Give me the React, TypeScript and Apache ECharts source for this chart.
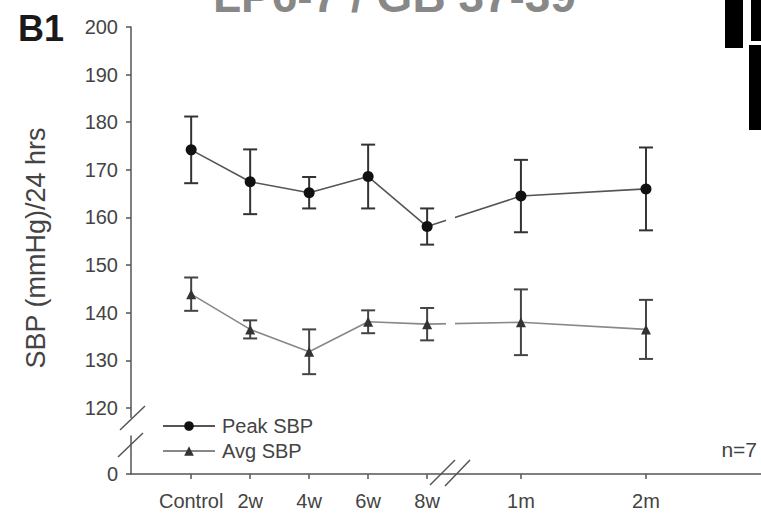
import { useEffect, useRef } from "react";
import * as echarts from "echarts";

const timeLabels = ["Control", "2w", "4w", "6w", "8w", "1m", "2m"];
const timePos = [0, 1, 2, 3, 4, 5.59, 7.71];
const peakMean = [174.2, 167.5, 165.2, 168.6, 158.1, 164.5, 166.0];
const peakErr = [7.0, 6.8, 3.3, 6.7, 3.8, 7.6, 8.7];
const avgMean = [143.9, 136.5, 131.8, 138.1, 137.6, 138.0, 136.5];
const avgErr = [3.5, 1.9, 4.7, 2.4, 3.4, 6.9, 6.2];
const yTicks = [120, 130, 140, 150, 160, 170, 180, 190, 200];
const seriesNames = ["Peak SBP", "Avg SBP"];

const FONT = "'Liberation Sans', Arial, Helvetica, sans-serif";

function errorBars(name: string, means: number[], errs: number[], color: string) {
  return {
    type: "custom",
    name: name + " err",
    xAxisIndex: 0,
    yAxisIndex: 0,
    z: 3,
    clip: false,
    encode: { x: 0, y: [1, 2] },
    data: means.map((m, i) => [timePos[i], m - errs[i], m + errs[i]]),
    renderItem: (_params: any, api: any) => {
      const x = api.value(0);
      const pLo = api.coord([x, api.value(1)]);
      const pHi = api.coord([x, api.value(2)]);
      const w = 7;
      const style = { stroke: color, lineWidth: 2 };
      return {
        type: "group",
        children: [
          { type: "line", shape: { x1: pHi[0], y1: pHi[1], x2: pLo[0], y2: pLo[1] }, style },
          { type: "line", shape: { x1: pHi[0] - w, y1: pHi[1], x2: pHi[0] + w, y2: pHi[1] }, style },
          { type: "line", shape: { x1: pLo[0] - w, y1: pLo[1], x2: pLo[0] + w, y2: pLo[1] }, style },
        ],
      };
    },
  };
}

export default function App() {
  const ref = useRef<HTMLDivElement>(null);
  useEffect(() => {
    if (!ref.current) return;
    const chart = echarts.init(ref.current, undefined, { renderer: "svg" });
    const xMin = -1.02;
    const xMax = 9.66;
    const axisColor = "#555";
    const textColor = "#444";
    const option: any = {
      animation: false,
      backgroundColor: "#fff",
      textStyle: { fontFamily: FONT },
      grid: [
        { left: 131, right: 0, top: 27, height: 390.5 },
        { left: 131, right: 0, top: 436, height: 38 },
      ],
      xAxis: [
        { type: "value", gridIndex: 0, min: xMin, max: xMax, show: false },
        {
          type: "value",
          gridIndex: 1,
          min: xMin,
          max: xMax,
          splitLine: { show: false },
          axisLine: { show: true, onZero: false, lineStyle: { color: axisColor, width: 1.5 } },
          axisTick: { show: true, length: 5, customValues: timePos, lineStyle: { color: axisColor, width: 1.5 } },
          axisLabel: {
            customValues: timePos,
            margin: 17,
            fontSize: 20,
            color: textColor,
            fontFamily: FONT,
            formatter: (v: number) => {
              const i = timePos.findIndex((p) => Math.abs(p - v) < 1e-6);
              return i >= 0 ? timeLabels[i] : "";
            },
          },
        },
      ],
      yAxis: [
        {
          type: "value",
          gridIndex: 0,
          min: 118,
          max: 200,
          splitLine: { show: false },
          axisLine: { show: true, onZero: false, lineStyle: { color: axisColor, width: 1.5 } },
          axisTick: { show: true, length: 5, customValues: yTicks, lineStyle: { color: axisColor, width: 1.5 } },
          axisLabel: { customValues: yTicks, margin: 13, fontSize: 20, color: textColor, fontFamily: FONT },
        },
        {
          type: "value",
          gridIndex: 1,
          min: 0,
          max: 10,
          splitLine: { show: false },
          axisLine: { show: true, onZero: false, lineStyle: { color: axisColor, width: 1.5 } },
          axisTick: { show: true, length: 5, customValues: [0], lineStyle: { color: axisColor, width: 1.5 } },
          axisLabel: { customValues: [0], margin: 13, fontSize: 20, color: textColor, fontFamily: FONT },
        },
      ],
      legend: {
        data: seriesNames,
        orient: "vertical",
        left: 157,
        top: 411,
        itemWidth: 52,
        itemHeight: 12,
        itemGap: 5,
        textStyle: { fontSize: 20, color: textColor, fontFamily: FONT, padding: [0, 0, 0, 2] },
      },
      series: [
        errorBars(seriesNames[0], peakMean, peakErr, "#333"),
        errorBars(seriesNames[1], avgMean, avgErr, "#444"),
        {
          type: "line",
          name: seriesNames[0],
          xAxisIndex: 0,
          yAxisIndex: 0,
          z: 4,
          data: peakMean.map((v, i) => [timePos[i], v]),
          symbol: "circle",
          symbolSize: 11,
          itemStyle: { color: "#111" },
          lineStyle: { color: "#555", width: 1.6 },
        },
        {
          type: "line",
          name: seriesNames[1],
          xAxisIndex: 0,
          yAxisIndex: 0,
          z: 4,
          data: avgMean.map((v, i) => [timePos[i], v]),
          symbol: "triangle",
          symbolSize: 10,
          itemStyle: { color: "#333" },
          lineStyle: { color: "#888", width: 1.6 },
        },
      ],
      graphic: [
        // gap in the data lines at the time break
        { type: "rect", z: 100, shape: { x: 446, y: 150, width: 9, height: 240 }, style: { fill: "#fff" } },
        // y-axis break
        { type: "rect", z: 100, shape: { x: 127, y: 419, width: 8, height: 16 }, style: { fill: "#fff" } },
        { type: "line", z: 101, shape: { x1: 120, y1: 430, x2: 145, y2: 406 }, style: { stroke: "#555", lineWidth: 1.5 } },
        { type: "line", z: 101, shape: { x1: 118, y1: 457, x2: 143, y2: 433 }, style: { stroke: "#555", lineWidth: 1.5 } },
        // x-axis break slashes
        { type: "line", z: 101, shape: { x1: 430, y1: 485, x2: 455, y2: 460 }, style: { stroke: "#555", lineWidth: 1.5 } },
        { type: "line", z: 101, shape: { x1: 445, y1: 486, x2: 470, y2: 460 }, style: { stroke: "#555", lineWidth: 1.5 } },
        // title (cut off at top, as in the reference)
        {
          type: "text",
          x: 213,
          y: -4,
          style: { text: "LP6-7 / GB 37-39", font: `bold 46px ${FONT}`, fill: "#888", verticalAlign: "middle", align: "left" },
        },
        {
          type: "text",
          x: 18,
          y: 28,
          style: { text: "B1", font: `bold 36px ${FONT}`, fill: "#1a1a1a", verticalAlign: "middle", align: "left" },
        },
        {
          type: "text",
          x: 36,
          y: 248,
          rotation: Math.PI / 2,
          style: { text: "SBP (mmHg)/24 hrs", font: `27px ${FONT}`, fill: textColor, verticalAlign: "middle", align: "center" },
        },
        {
          type: "text",
          x: 757,
          y: 449,
          style: { text: "n=7", font: `21px ${FONT}`, fill: textColor, verticalAlign: "middle", align: "right" },
        },
        // black blocks at top right (neighbouring panel)
        { type: "rect", shape: { x: 725, y: 0, width: 18, height: 48 }, style: { fill: "#000" } },
        { type: "rect", shape: { x: 751, y: 0, width: 10, height: 41 }, style: { fill: "#000" } },
        { type: "rect", shape: { x: 749, y: 45, width: 12, height: 85 }, style: { fill: "#000" } },
      ],
    };
    chart.setOption(option);
    return () => chart.dispose();
  }, []);
  return (
    <div
      ref={ref}
      style={{ position: "fixed", left: 0, top: 0, width: 761, height: 518, background: "#fff" }}
    />
  );
}
